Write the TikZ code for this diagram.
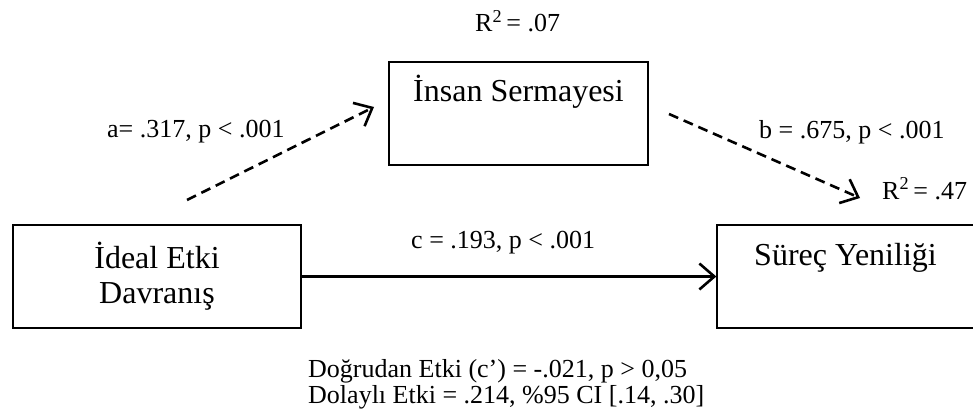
\documentclass[tikz,border=0pt]{standalone}
\usepackage{fontspec}
\setmainfont{Liberation Serif}
\usetikzlibrary{arrows.meta}
\begin{document}
\begin{tikzpicture}[x=1pt,y=-1pt,
  box/.style={draw, line width=1.3pt, minimum width=#1, minimum height=103pt,
    inner sep=0pt, font=\fontsize{32}{35}\selectfont, align=center},
  toptext/.style={text height=22pt, text depth=45pt},
  lbl/.style={inner sep=0pt, anchor=base west, font=\fontsize{26}{26}\selectfont},
  arr/.style={line width=2.6pt, -{Straight Barb[length=15pt,width=26pt]}},
  dasharr/.style={arr, line width=2.6pt, dash pattern=on 10pt off 6pt}
]
\clip (0,0) rectangle (973,417);
\fill[white] (0,0) rectangle (973,417);

% boxes
\node[box=259pt, toptext] (insan) at (518.5,113.5) {İnsan Sermayesi};
\node[box=288pt] (ideal) at (157,276.5) {İdeal Etki\\Davranış};
\node[box=257pt, toptext] (surec) at (845.5,276.5) {Süreç Yeniliği};

% free ends of the dashed paths
\coordinate (a1) at (187,200);
\coordinate (a2) at (374,107);
\coordinate (b1) at (669,114);
\coordinate (b2) at (860,198);

% connectors
\draw[arr] (ideal.east) -- (surec.west);
\draw[dasharr] (a1) -- (a2);
\draw[dasharr] (b1) -- (b2);

% labels
\node[lbl] (r1) at (475,32) {R\textsuperscript{2}\,= .07};
\node[lbl] (la) at (107,137) {a= .317, p < .001};
\node[lbl] (lb) at (759,138) {b = .675, p < .001};
\node[lbl] (r2) at (882,199) {R\textsuperscript{2}\,= .47};
\node[lbl] (lc) at (411,248) {c = .193, p < .001};
\node[lbl] (d1) at (308,377) {Doğrudan Etki (c’) = -.021, p > 0,05};
\node[lbl] (d2) at (308,403) {Dolaylı Etki = .214, \%95 CI [.14, .30]};
\end{tikzpicture}
\end{document}
